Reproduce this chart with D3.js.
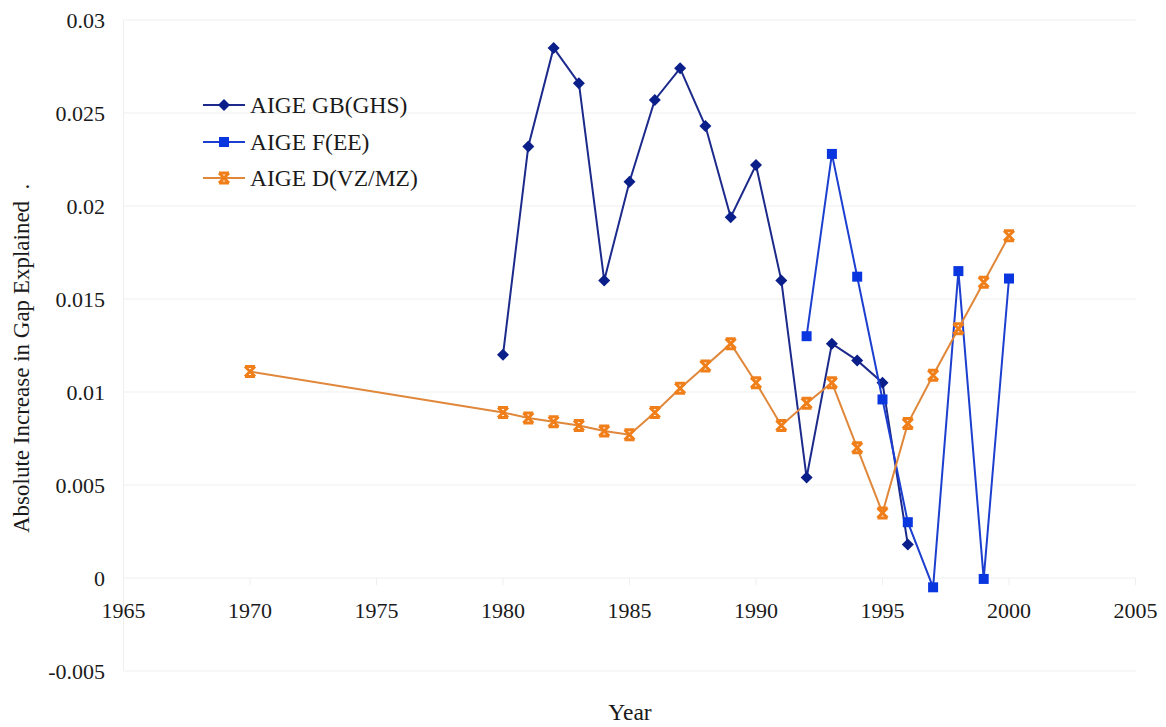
<!DOCTYPE html>
<html><head><meta charset="utf-8">
<script src="https://cdn.jsdelivr.net/npm/d3@7"></script>
<style>body{margin:0;background:#fff}svg{display:block}text{white-space:pre}</style>
</head><body>
<script>
const xTicks = [1965,1970,1975,1980,1985,1990,1995,2000,2005];
const yTicks = [-0.005,0,0.005,0.01,0.015,0.02,0.025,0.03];
const yTickLabels = ["-0.005","0","0.005","0.01","0.015","0.02","0.025","0.03"];
const seriesNames = ["AIGE GB(GHS)","AIGE F(EE)","AIGE D(VZ/MZ)"];

const gbYears = [1980,1981,1982,1983,1984,1985,1986,1987,1988,1989,1990,1991,1992,1993,1994,1995,1996];
const gbValues = [0.0120,0.0232,0.0285,0.0266,0.0160,0.0213,0.0257,0.0274,0.0243,0.0194,0.0222,0.0160,0.0054,0.0126,0.0117,0.0105,0.0018];

const fYears = [1992,1993,1994,1995,1996,1997,1998,1999,2000];
const fValues = [0.0130,0.0228,0.0162,0.0096,0.0030,-0.0005,0.0165,-0.00005,0.0161];

const dYears = [1970,1980,1981,1982,1983,1984,1985,1986,1987,1988,1989,1990,1991,1992,1993,1994,1995,1996,1997,1998,1999,2000];
const dValues = [0.0111,0.0089,0.0086,0.0084,0.0082,0.0079,0.0077,0.0089,0.0102,0.0114,0.0126,0.0105,0.0082,0.0094,0.0105,0.0070,0.0035,0.0083,0.0109,0.0134,0.0159,0.0184];

const W = 1166, H = 727;
const svg = d3.select("body").append("svg").attr("width", W).attr("height", H);
const pLeft = 123.5, pRight = 1135.5, pTop = 20, pBottom = 671;
const x = d3.scaleLinear().domain([1965,2005]).range([pLeft,pRight]);
const y = d3.scaleLinear().domain([-0.005,0.03]).range([pBottom,pTop]);
const font = "'Liberation Serif', 'Times New Roman', serif";
const grid = "#efefef";
const txt = "#1a1a1a";

// horizontal gridlines
svg.append("g").selectAll("line").data(yTicks).join("line")
  .attr("x1", pLeft).attr("x2", pRight)
  .attr("y1", d => y(d)).attr("y2", d => y(d))
  .attr("stroke", grid).attr("stroke-width", 1);
// left border
svg.append("line").attr("x1", pLeft).attr("x2", pLeft).attr("y1", pTop).attr("y2", pBottom)
  .attr("stroke", grid);
// x ticks at zero line
svg.append("g").selectAll("line").data(xTicks).join("line")
  .attr("x1", d => x(d)).attr("x2", d => x(d))
  .attr("y1", y(0)).attr("y2", y(0) + 7)
  .attr("stroke", grid);

// y tick labels
svg.append("g").selectAll("text").data(yTicks).join("text")
  .attr("x", 105).attr("y", d => y(d)).attr("dy", "0.35em")
  .attr("text-anchor", "end").attr("font-family", font).attr("font-size", 22).attr("fill", txt)
  .text((d,i) => yTickLabels[i]);
// x tick labels
svg.append("g").selectAll("text").data(xTicks).join("text")
  .attr("x", d => x(d)).attr("y", 618)
  .attr("text-anchor", "middle").attr("font-family", font).attr("font-size", 22).attr("fill", txt)
  .text(d => d);
// axis titles
svg.append("text").attr("x", 630).attr("y", 720).attr("text-anchor", "middle")
  .attr("font-family", font).attr("font-size", 23.5).attr("fill", txt).text("Year");
svg.append("text").attr("transform", "translate(29,533) rotate(-90)").attr("text-anchor", "start")
  .attr("font-family", font).attr("font-size", 23).attr("fill", txt).text("Absolute Increase in Gap Explained  .");

const series = [
  {years: gbYears, values: gbValues, line: "#1c2a8c", fill: "#0b1f8a", marker: "diamond"},
  {years: fYears, values: fValues, line: "#1c3fd0", fill: "#0a36e0", marker: "square"},
  {years: dYears, values: dValues, line: "#e0873a", fill: "#f07f1a", marker: "star"}
];

function drawMarker(g, type, cx, cy, s) {
  if (type === "diamond") {
    g.append("path").attr("d", `M${cx},${cy-6}L${cx+6},${cy}L${cx},${cy+6}L${cx-6},${cy}Z`).attr("fill", s.fill);
  } else if (type === "square") {
    g.append("rect").attr("x", cx-5).attr("y", cy-5).attr("width", 10).attr("height", 10).attr("fill", s.fill);
  } else {
    const r = 5;
    g.append("path").attr("d", `M${cx-r},${cy-r}L${cx+r},${cy+r}M${cx+r},${cy-r}L${cx-r},${cy+r}M${cx-r},${cy-r}L${cx+r},${cy-r}M${cx-r},${cy+r}L${cx+r},${cy+r}`)
      .attr("stroke", s.fill).attr("stroke-width", 3).attr("fill", "none");
  }
}

const line = d3.line().x(d => x(d[0])).y(d => y(d[1]));
series.forEach(s => {
  const pts = s.years.map((yr,i) => [yr, s.values[i]]);
  svg.append("path").datum(pts).attr("d", line).attr("fill", "none")
    .attr("stroke", s.line).attr("stroke-width", 2);
  const g = svg.append("g");
  pts.forEach(p => drawMarker(g, s.marker, x(p[0]), y(p[1]), s));
});

// legend
const legY = [105, 142, 178];
series.forEach((s,i) => {
  const g = svg.append("g");
  g.append("line").attr("x1", 203).attr("x2", 245).attr("y1", legY[i]).attr("y2", legY[i])
    .attr("stroke", s.line).attr("stroke-width", 2);
  drawMarker(g, s.marker, 224, legY[i], s);
  g.append("text").attr("x", 250).attr("y", legY[i]).attr("dy", "0.35em")
    .attr("font-family", font).attr("font-size", 23.5).attr("fill", txt).text(seriesNames[i]);
});
</script>
</body></html>
